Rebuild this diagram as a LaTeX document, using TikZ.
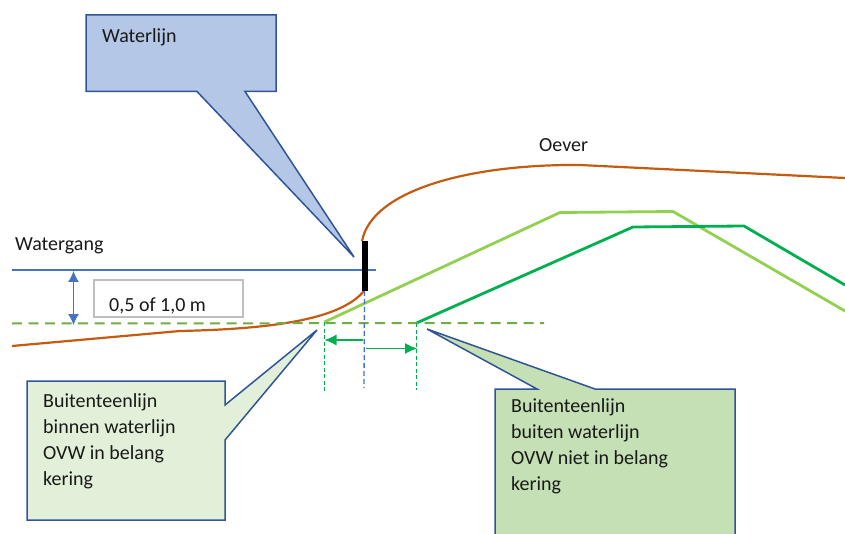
\documentclass[tikz,border=0pt]{standalone}
\usepackage{fontspec}
\setmainfont{Carlito}
\usetikzlibrary{arrows.meta}
\definecolor{calloutline}{HTML}{2F5597}
\definecolor{bluefill}{HTML}{B4C7E7}
\definecolor{palegreen}{HTML}{E2F0D9}
\definecolor{midgreen}{HTML}{C5E0B4}
\definecolor{lime}{HTML}{92D050}
\definecolor{strong}{HTML}{00B050}
\definecolor{dashgreen}{HTML}{70AD47}
\definecolor{bank}{HTML}{C55A11}
\definecolor{water}{HTML}{4472C4}
\tikzset{
  callout/.style={draw=calloutline,line width=1.5pt,line join=miter},
  label/.style={inner sep=0pt,anchor=base west,font=\fontsize{20}{26}\selectfont,text=black!90},
  multi/.style={label,align=left,anchor=north west},
  guide/.style={strong,line width=1.2pt,dash pattern=on 4pt off 2.5pt},
  span/.style={strong,line width=1.1pt,-{Latex[length=12pt,width=11pt]}},
  both/.style={water,line width=1pt,{Latex[length=11pt,width=11pt]}-{Latex[length=11pt,width=11pt]}},
}
\begin{document}
\begin{tikzpicture}[x=1pt,y=-1pt]
\useasboundingbox (0,0) rectangle (845,534);
\clip (0,0) rectangle (845,534);
% named points
\coordinate (wlA) at (12,270); \coordinate (wlB) at (376,270);
\coordinate (dashA) at (12,323.5); \coordinate (dashB) at (544,323);
\coordinate (arrowTop) at (73.5,271); \coordinate (arrowBot) at (73.5,325);
\coordinate (markTop) at (364.5,241); \coordinate (markBot) at (364.5,291);
\coordinate (vertBot) at (364,388);
\coordinate (gA) at (324.5,322); \coordinate (gAb) at (324.5,393);
\coordinate (gB) at (416.5,323); \coordinate (gBb) at (416.5,390);
\coordinate (spanA) at (363,340); \coordinate (spanAe) at (324.5,340);
\coordinate (spanB) at (366,348.5); \coordinate (spanBe) at (417,348.5);
% bank
\draw[bank,line width=2.2pt] (12,346) -- (180,331)
  .. controls (270,329) and (340,320) .. (364,291);
\draw[bank,line width=2.2pt] (362,241) .. controls (372,190) and (470,164) .. (580,165) -- (845,178);
% embankments
\draw[lime,line width=2.8pt] (gA) -- (560,212.5) -- (673,211.5) -- (845,311);
\draw[strong,line width=2.8pt] (gB) -- (633,227) -- (744,226) -- (845,285);
% water line and reference
\draw[water,line width=1.1pt] (wlA) -- (wlB);
\draw[dashgreen,line width=2pt,dash pattern=on 10pt off 6.5pt] (dashA) -- (dashB);
\draw[both] (arrowTop) -- (arrowBot);
% verticals and spans
\draw[water,line width=1.3pt,dash pattern=on 5pt off 3pt] (markBot) -- (vertBot);
\draw[guide] (gA) -- (gAb);
\draw[guide] (gB) -- (gBb);
\draw[span] (spanA) -- (spanAe);
\draw[span] (spanB) -- (spanBe);
\draw[black,line width=6pt] (markTop) -- (markBot);
% callouts
\draw[callout,fill=bluefill] (86,15) -- (276,15) -- (276,91.5) -- (245,91.5) -- (354,257) -- (197,91.5) -- (86,91.5) -- cycle;
\draw[callout,fill=palegreen] (27,381) -- (225,381) -- (225,405) -- (317,330) -- (225,440) -- (225,520) -- (27,520) -- cycle;
\draw[callout,fill=midgreen] (495,389) -- (537,389) -- (427,329) -- (595,389) -- (735,389) -- (735,540) -- (495,540) -- cycle;
% texts
\node[draw=black!25,line width=1.2pt,fill=white,minimum width=149pt,minimum height=37pt,inner sep=0pt] (gap) at (168.5,298.5) {};
\node[label] (gapt) at (109,312) {0,5 of 1,0 m};
\node[label] (wl) at (102,43) {Waterlijn};
\node[label] (wg) at (15,251) {Watergang};
\node[label] (oe) at (539,152) {Oever};
\node[multi] (lt) at (43,393) {Buitenteenlijn\\binnen waterlijn\\OVW in belang\\kering};
\node[multi] (rt) at (511,398) {Buitenteenlijn\\buiten waterlijn\\OVW niet in belang\\kering};
\end{tikzpicture}
\end{document}
